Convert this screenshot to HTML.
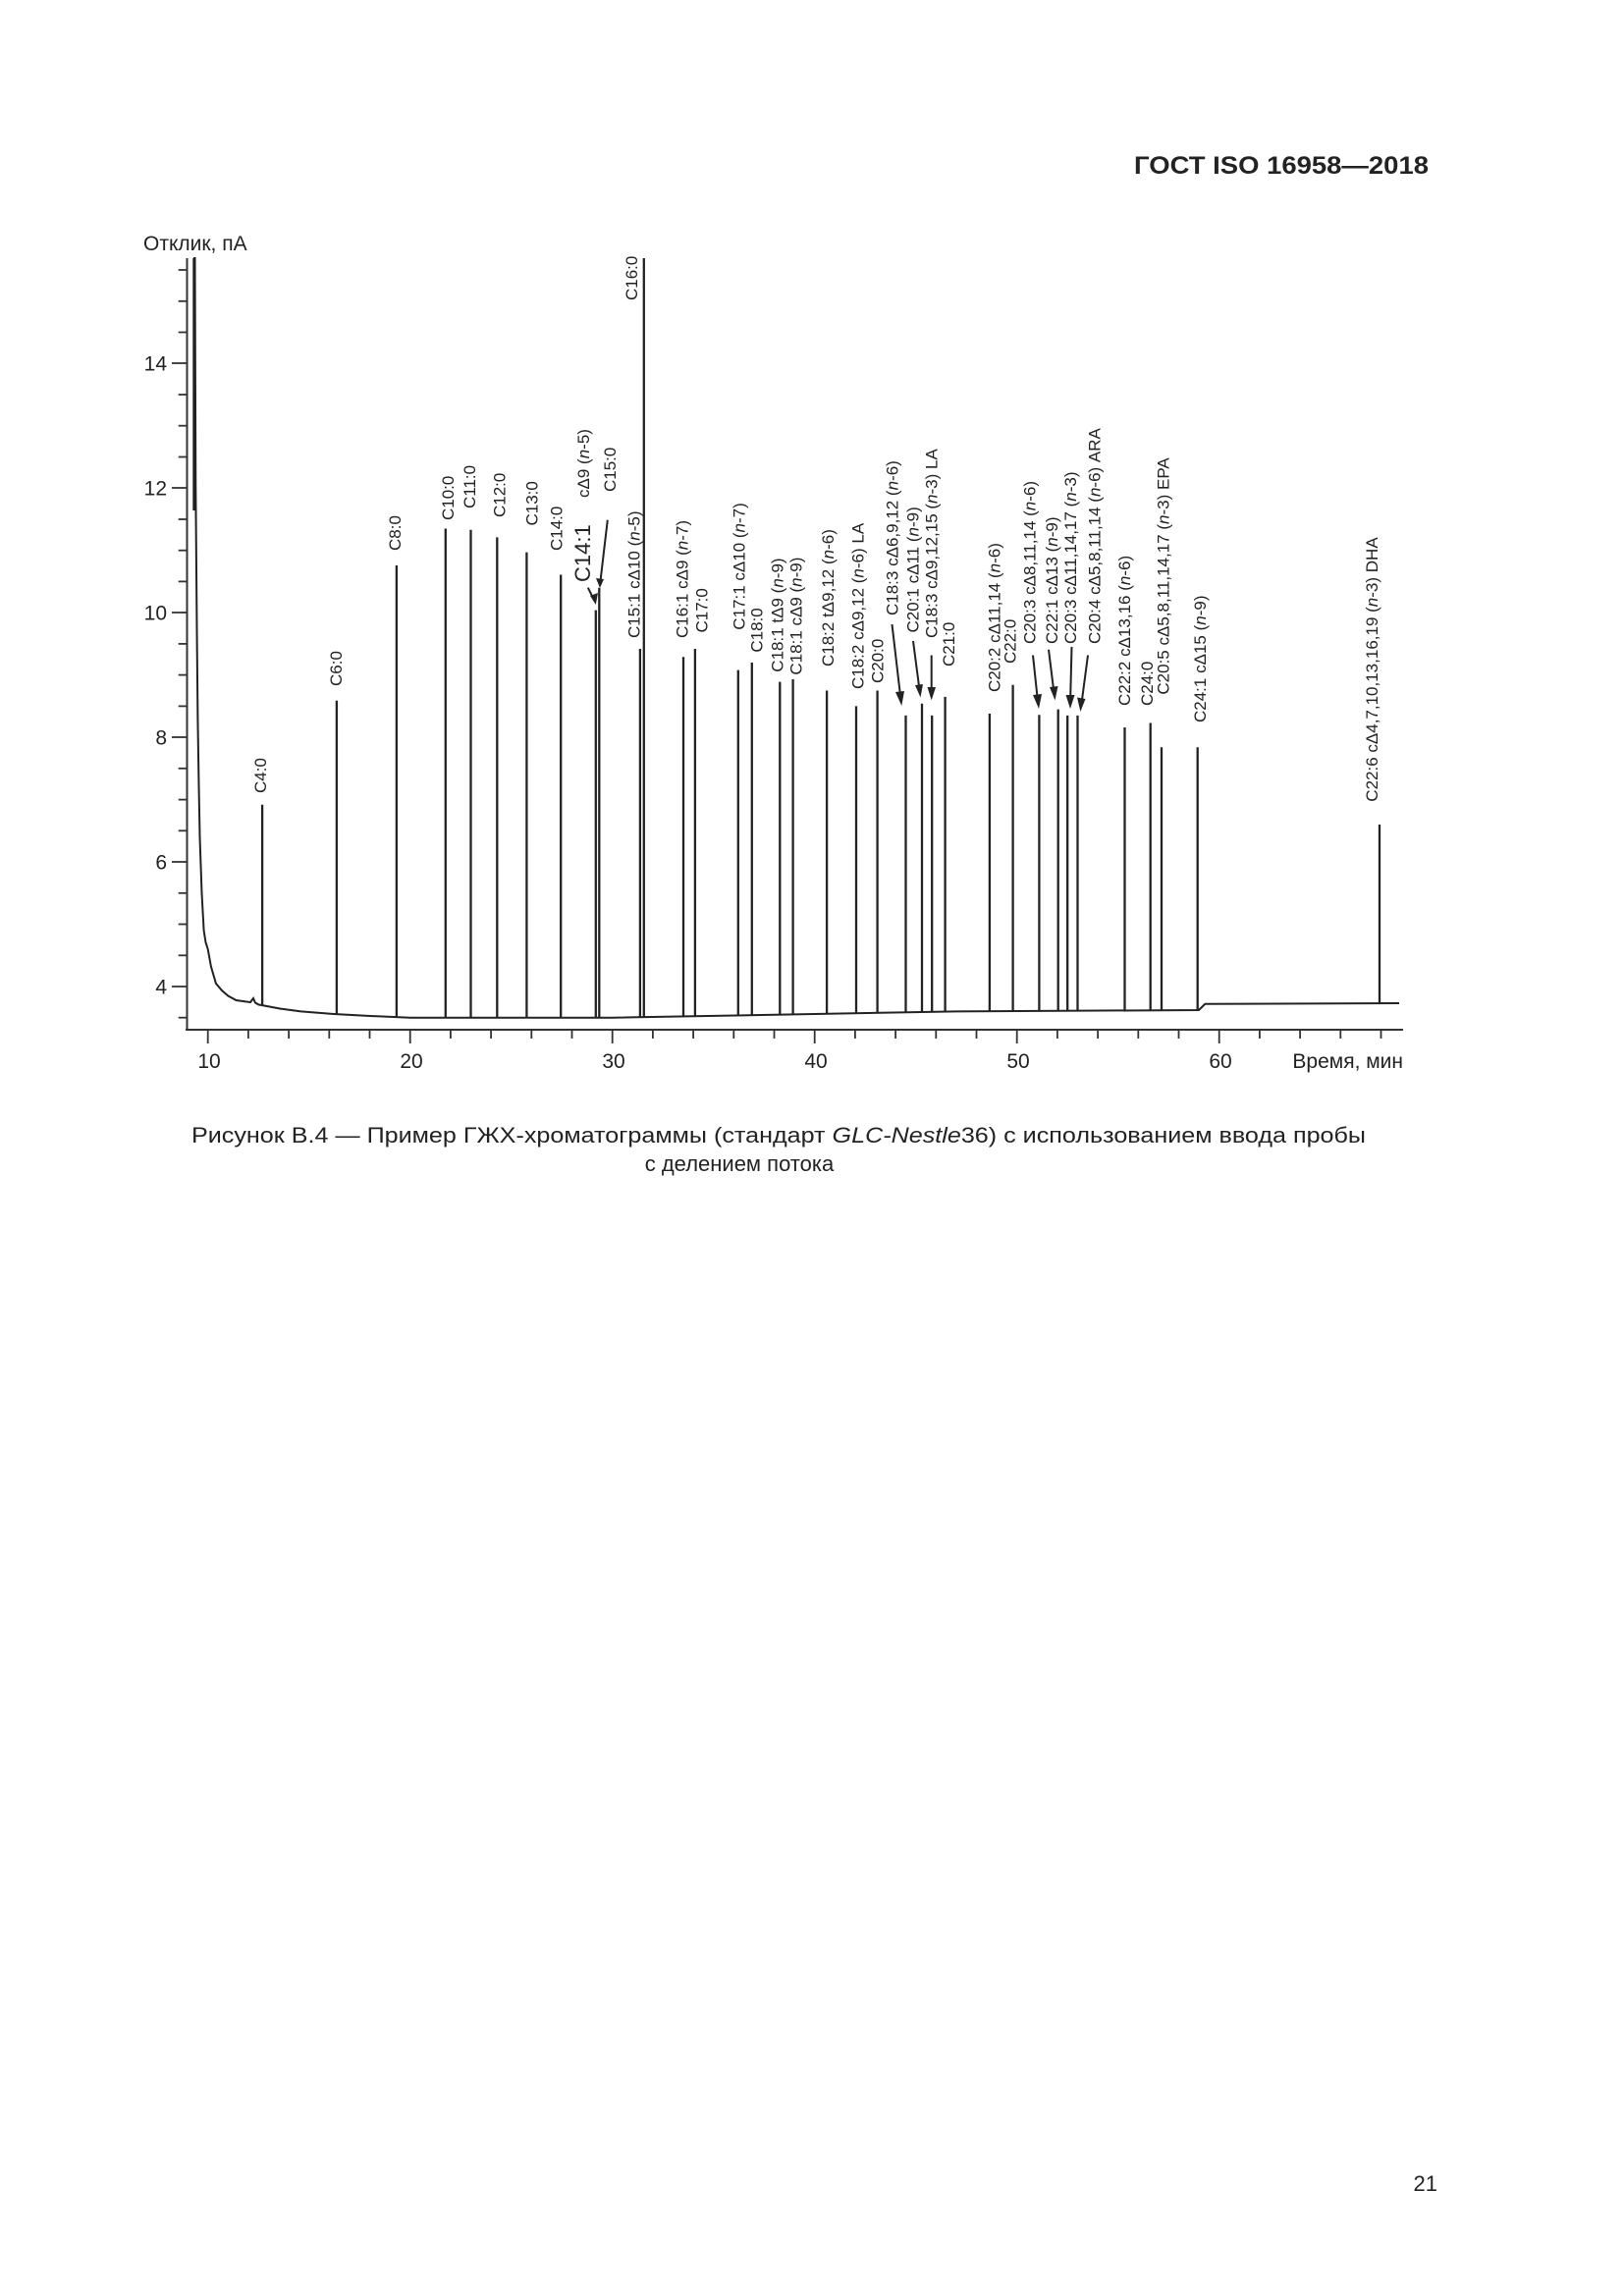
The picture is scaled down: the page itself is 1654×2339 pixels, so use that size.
<!DOCTYPE html>
<html><head><meta charset="utf-8"><style>
html,body{margin:0;padding:0;background:#fff;}
svg{display:block;}
text{font-family:"Liberation Sans",Arial,sans-serif;fill:#222;}
</style></head><body>
<svg width="1654" height="2339" viewBox="0 0 1654 2339" xmlns="http://www.w3.org/2000/svg">
<rect width="1654" height="2339" fill="#fff"/>
<text x="1155" y="177" font-size="25" font-weight="bold" textLength="300" lengthAdjust="spacingAndGlyphs">ГОСТ ISO 16958—2018</text>
<text x="146" y="255" font-size="21">Отклик, пА</text>

<!-- axes -->
<g stroke="#333" stroke-width="2" fill="none">
<line x1="190.5" y1="263" x2="190.5" y2="1049"/>
<line x1="189" y1="1049" x2="1429" y2="1049"/>
</g>
<!-- y ticks -->
<g stroke="#333" stroke-width="1.8">
<line x1="175" y1="1005" x2="190" y2="1005"/><line x1="175" y1="878" x2="190" y2="878"/><line x1="175" y1="751" x2="190" y2="751"/><line x1="175" y1="624" x2="190" y2="624"/><line x1="175" y1="497" x2="190" y2="497"/><line x1="175" y1="370" x2="190" y2="370"/>
<line x1="181.7" y1="1036.7" x2="190" y2="1036.7"/><line x1="181.7" y1="973.3" x2="190" y2="973.3"/><line x1="181.7" y1="941.5" x2="190" y2="941.5"/><line x1="181.7" y1="909.8" x2="190" y2="909.8"/><line x1="181.7" y1="846.3" x2="190" y2="846.3"/><line x1="181.7" y1="814.6" x2="190" y2="814.6"/><line x1="181.7" y1="782.8" x2="190" y2="782.8"/><line x1="181.7" y1="719.4" x2="190" y2="719.4"/><line x1="181.7" y1="687.6" x2="190" y2="687.6"/><line x1="181.7" y1="655.9" x2="190" y2="655.9"/><line x1="181.7" y1="592.4" x2="190" y2="592.4"/><line x1="181.7" y1="560.7" x2="190" y2="560.7"/><line x1="181.7" y1="529" x2="190" y2="529"/><line x1="181.7" y1="465.5" x2="190" y2="465.5"/><line x1="181.7" y1="433.7" x2="190" y2="433.7"/><line x1="181.7" y1="402" x2="190" y2="402"/><line x1="181.7" y1="338.5" x2="190" y2="338.5"/><line x1="181.7" y1="306.8" x2="190" y2="306.8"/><line x1="181.7" y1="275" x2="190" y2="275"/>
</g>
<g font-size="21" text-anchor="end">
<text x="170" y="1012.5">4</text><text x="170" y="885.5">6</text><text x="170" y="758.5">8</text><text x="170" y="631.5">10</text><text x="170" y="504.5">12</text><text x="170" y="377.5">14</text>
</g>
<!-- x ticks -->
<g stroke="#333" stroke-width="1.8">
<line x1="211.7" y1="1049" x2="211.7" y2="1063"/><line x1="252.9" y1="1049" x2="252.9" y2="1058"/><line x1="294.1" y1="1049" x2="294.1" y2="1058"/><line x1="335.3" y1="1049" x2="335.3" y2="1058"/><line x1="376.5" y1="1049" x2="376.5" y2="1058"/><line x1="417.7" y1="1049" x2="417.7" y2="1063"/><line x1="458.9" y1="1049" x2="458.9" y2="1058"/><line x1="500.1" y1="1049" x2="500.1" y2="1058"/><line x1="541.3" y1="1049" x2="541.3" y2="1058"/><line x1="582.5" y1="1049" x2="582.5" y2="1058"/><line x1="623.7" y1="1049" x2="623.7" y2="1063"/><line x1="664.9" y1="1049" x2="664.9" y2="1058"/><line x1="706.1" y1="1049" x2="706.1" y2="1058"/><line x1="747.3" y1="1049" x2="747.3" y2="1058"/><line x1="788.5" y1="1049" x2="788.5" y2="1058"/><line x1="829.7" y1="1049" x2="829.7" y2="1063"/><line x1="870.9" y1="1049" x2="870.9" y2="1058"/><line x1="912.1" y1="1049" x2="912.1" y2="1058"/><line x1="953.3" y1="1049" x2="953.3" y2="1058"/><line x1="994.5" y1="1049" x2="994.5" y2="1058"/><line x1="1035.7" y1="1049" x2="1035.7" y2="1063"/><line x1="1076.9" y1="1049" x2="1076.9" y2="1058"/><line x1="1118.1" y1="1049" x2="1118.1" y2="1058"/><line x1="1159.3" y1="1049" x2="1159.3" y2="1058"/><line x1="1200.5" y1="1049" x2="1200.5" y2="1058"/><line x1="1241.7" y1="1049" x2="1241.7" y2="1063"/><line x1="1282.9" y1="1049" x2="1282.9" y2="1058"/><line x1="1324.1" y1="1049" x2="1324.1" y2="1058"/><line x1="1365.3" y1="1049" x2="1365.3" y2="1058"/><line x1="1406.5" y1="1049" x2="1406.5" y2="1058"/>
</g>
<g font-size="21" text-anchor="middle">
<text x="213" y="1088">10</text><text x="419" y="1088">20</text><text x="625" y="1088">30</text><text x="831" y="1088">40</text><text x="1037" y="1088">50</text><text x="1243" y="1088">60</text>
</g>
<text x="1429" y="1088" font-size="21" text-anchor="end">Время, мин</text>

<!-- baseline trace -->
<polyline fill="none" stroke="#222" stroke-width="2" points="197,263 198.5,263 199.3,497 200.5,640 201.4,732 202.5,800 203.5,853 205.5,910 207.6,948 209.5,960 211.7,967 215,985 220,1002 226,1009 232.3,1014.5 240.5,1019 255,1021 258,1017 260,1021.5 263.2,1023.4 285,1027.5 306.5,1030.4 340,1033 372.4,1034.8 417.7,1036.7 623.7,1036.7 829.7,1033 973.9,1030.4 1221,1029 1227.3,1022.8 1425,1022"/>
<line x1="197.7" y1="263" x2="197.7" y2="520" stroke="#222" stroke-width="2.8"/>
<!-- peaks -->
<g stroke="#222" stroke-width="2.3">
<line x1="267.1" y1="1024" x2="267.1" y2="819.7"/>
<line x1="342.9" y1="1033" x2="342.9" y2="713.7"/>
<line x1="403.9" y1="1036" x2="403.9" y2="576"/>
<line x1="453.8" y1="1036.7" x2="453.8" y2="538.5"/>
<line x1="479.5" y1="1036.7" x2="479.5" y2="539.8"/>
<line x1="506.3" y1="1036.7" x2="506.3" y2="547.4"/>
<line x1="536.4" y1="1036.7" x2="536.4" y2="562.6"/>
<line x1="571.2" y1="1036.7" x2="571.2" y2="585.5"/>
<line x1="606.8" y1="1036.7" x2="606.8" y2="621.6"/>
<line x1="610.3" y1="1036.7" x2="610.3" y2="598.8"/>
<line x1="651.9" y1="1036.7" x2="651.9" y2="661"/>
<line x1="655.8" y1="1036.7" x2="655.8" y2="263"/>
<line x1="696" y1="1036" x2="696" y2="669.2"/>
<line x1="707.9" y1="1036" x2="707.9" y2="661"/>
<line x1="751.8" y1="1035" x2="751.8" y2="682.6"/>
<line x1="765.8" y1="1035" x2="765.8" y2="675"/>
<line x1="794.3" y1="1034" x2="794.3" y2="694.6"/>
<line x1="807.6" y1="1034" x2="807.6" y2="692"/>
<line x1="842.1" y1="1033" x2="842.1" y2="703.5"/>
<line x1="872" y1="1032" x2="872" y2="719.4"/>
<line x1="893.6" y1="1032" x2="893.6" y2="703.5"/>
<line x1="922.5" y1="1031" x2="922.5" y2="728.9"/>
<line x1="939" y1="1031" x2="939" y2="716.8"/>
<line x1="949.2" y1="1031" x2="949.2" y2="728.9"/>
<line x1="962.6" y1="1031" x2="962.6" y2="709.9"/>
<line x1="1007.9" y1="1030" x2="1007.9" y2="727"/>
<line x1="1031.6" y1="1030" x2="1031.6" y2="697.8"/>
<line x1="1058.4" y1="1030" x2="1058.4" y2="728.3"/>
<line x1="1077.7" y1="1030" x2="1077.7" y2="722.6"/>
<line x1="1087.2" y1="1030" x2="1087.2" y2="728.9"/>
<line x1="1097.5" y1="1030" x2="1097.5" y2="728.9"/>
<line x1="1145.5" y1="1029" x2="1145.5" y2="741"/>
<line x1="1171.7" y1="1029" x2="1171.7" y2="736.5"/>
<line x1="1183" y1="1029" x2="1183" y2="761.3"/>
<line x1="1219.7" y1="1029" x2="1219.7" y2="761.3"/>
<line x1="1405" y1="1022" x2="1405" y2="840"/>
</g>

<!-- arrows -->
<g stroke="#222" stroke-width="2" fill="#222">
<line x1="598.8" y1="598.7" x2="605.5" y2="612"/>
<line x1="618.8" y1="529.8" x2="611.5" y2="592"/>
<line x1="908.5" y1="636" x2="916.8" y2="707"/>
<line x1="930" y1="653" x2="936" y2="699"/>
<line x1="948.7" y1="667.5" x2="948.7" y2="702"/>
<line x1="1052" y1="667.5" x2="1056.5" y2="710"/>
<line x1="1068" y1="661.8" x2="1073" y2="702"/>
<line x1="1091.5" y1="659" x2="1090.2" y2="710"/>
<line x1="1108" y1="667.5" x2="1102" y2="713"/>
</g>
<g fill="#222">
<polygon points="606.8,616 601,607 609,604"/>
<polygon points="611,599 607,589 615,590"/>
<polygon points="918.3,719 912,705 921,704"/>
<polygon points="937.5,710.5 932,698 940,697"/>
<polygon points="948.7,713.4 944.5,700 953,700"/>
<polygon points="1058,722 1052,708 1061,707"/>
<polygon points="1074.5,713.4 1069,700 1077.5,699"/>
<polygon points="1090,722 1085.5,708 1094.5,708"/>
<polygon points="1100.4,725 1097,710.5 1105.5,712"/>
</g>

<!-- labels -->
<g font-size="17">
<text transform="translate(271,808) rotate(-90)">C4:0</text>
<text transform="translate(348,699) rotate(-90)">C6:0</text>
<text transform="translate(408,561) rotate(-90)">C8:0</text>
<text transform="translate(462,530) rotate(-90)">C10:0</text>
<text transform="translate(484,518) rotate(-90)">C11:0</text>
<text transform="translate(514.5,527) rotate(-90)">C12:0</text>
<text transform="translate(547.5,535.5) rotate(-90)">C13:0</text>
<text transform="translate(572.5,561) rotate(-90)">C14:0</text>
<text transform="translate(600,507) rotate(-90)">cΔ9 (<tspan font-style="italic">n</tspan>-5)</text>
<text transform="translate(627,501) rotate(-90)">C15:0</text>
<text transform="translate(651.5,650) rotate(-90)">C15:1 cΔ10 (<tspan font-style="italic">n</tspan>-5)</text>
<text transform="translate(649,306) rotate(-90)">C16:0</text>
<text transform="translate(700.5,650) rotate(-90)">C16:1 cΔ9 (<tspan font-style="italic">n</tspan>-7)</text>
<text transform="translate(720.5,644.5) rotate(-90)">C17:0</text>
<text transform="translate(758.5,641.7) rotate(-90)">C17:1 cΔ10 (<tspan font-style="italic">n</tspan>-7)</text>
<text transform="translate(776.5,664.6) rotate(-90)">C18:0</text>
<text transform="translate(797.5,684.7) rotate(-90)">C18:1 tΔ9 (<tspan font-style="italic">n</tspan>-9)</text>
<text transform="translate(816.5,687.6) rotate(-90)">C18:1 cΔ9 (<tspan font-style="italic">n</tspan>-9)</text>
<text transform="translate(849,679) rotate(-90)">C18:2 tΔ9,12 (<tspan font-style="italic">n</tspan>-6)</text>
<text transform="translate(879.5,702) rotate(-90)">C18:2 cΔ9,12 (<tspan font-style="italic">n</tspan>-6) LA</text>
<text transform="translate(899.5,696) rotate(-90)">C20:0</text>
<text transform="translate(914.5,627) rotate(-90)">C18:3 cΔ6,9,12 (<tspan font-style="italic">n</tspan>-6)</text>
<text transform="translate(935.5,644.5) rotate(-90)">C20:1 cΔ11 (<tspan font-style="italic">n</tspan>-9)</text>
<text transform="translate(954.5,650) rotate(-90)">C18:3 cΔ9,12,15 (<tspan font-style="italic">n</tspan>-3) LA</text>
<text transform="translate(972,679) rotate(-90)">C21:0</text>
<text transform="translate(1018.5,705) rotate(-90)">C20:2 cΔ11,14 (<tspan font-style="italic">n</tspan>-6)</text>
<text transform="translate(1034.5,676) rotate(-90)">C22:0</text>
<text transform="translate(1054.5,656) rotate(-90)">C20:3 cΔ8,11,14 (<tspan font-style="italic">n</tspan>-6)</text>
<text transform="translate(1077,656) rotate(-90)">C22:1 cΔ13 (<tspan font-style="italic">n</tspan>-9)</text>
<text transform="translate(1096,656) rotate(-90)">C20:3 cΔ11,14,17 (<tspan font-style="italic">n</tspan>-3)</text>
<text transform="translate(1120.5,656) rotate(-90)">C20:4 cΔ5,8,11,14 (<tspan font-style="italic">n</tspan>-6) ARA</text>
<text transform="translate(1151,719) rotate(-90)">C22:2 cΔ13,16 (<tspan font-style="italic">n</tspan>-6)</text>
<text transform="translate(1174,719) rotate(-90)">C24:0</text>
<text transform="translate(1190.5,707.6) rotate(-90)">C20:5 cΔ5,8,11,14,17 (<tspan font-style="italic">n</tspan>-3) EPA</text>
<text transform="translate(1228,736) rotate(-90)">C24:1 cΔ15 (<tspan font-style="italic">n</tspan>-9)</text>
<text transform="translate(1403,816.7) rotate(-90)">C22:6 cΔ4,7,10,13,16,19 (<tspan font-style="italic">n</tspan>-3) DHA</text>
</g>
<text transform="translate(601,593) rotate(-90)" font-size="22">C14:1</text>

<!-- caption -->
<text x="195" y="1164" font-size="22" textLength="1196" lengthAdjust="spacingAndGlyphs">Рисунок В.4 — Пример ГЖХ-хроматограммы (стандарт <tspan font-style="italic">GLC-Nestle</tspan>36) с использованием ввода пробы</text>
<text x="753" y="1193" font-size="22" text-anchor="middle">с делением потока</text>

<text x="1464" y="2232" font-size="22" text-anchor="end">21</text>
</svg>
</body></html>
